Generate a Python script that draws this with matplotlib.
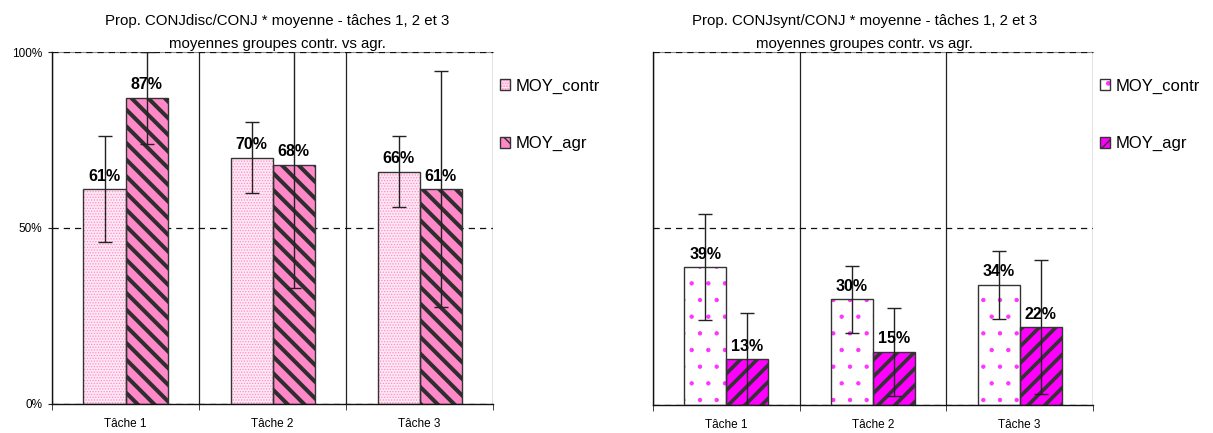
import matplotlib
matplotlib.use("Agg")
import matplotlib.pyplot as plt
from matplotlib.legend_handler import HandlerTuple
import numpy as np

plt.rcParams['font.family'] = ['Liberation Sans', 'DejaVu Sans']

categories = ["Tâche 1", "Tâche 2", "Tâche 3"]
series_names = ["MOY_contr", "MOY_agr"]

# left chart : CONJdisc/CONJ
disc_contr = [0.61, 0.70, 0.66]
disc_agr = [0.87, 0.68, 0.61]
disc_contr_err = [0.15, 0.10, 0.10]
disc_agr_err = [0.13, 0.35, 0.335]

# right chart : CONJsynt/CONJ
synt_contr = [0.39, 0.30, 0.34]
synt_agr = [0.13, 0.15, 0.22]
synt_contr_err = [0.15, 0.095, 0.097]
synt_agr_err = [0.13, 0.125, 0.19]

titles = ["Prop. CONJdisc/CONJ * moyenne - tâches 1, 2 et 3",
          "Prop. CONJsynt/CONJ * moyenne - tâches 1, 2 et 3"]
subtitle = "moyennes groupes contr. vs agr."
yticks = [0, 0.5, 1.0]
ytick_labels = ["0%", "50%", "100%"]

barw = 0.286
edge = '#333333'


# Bars with a hatch fill, then a plain outline on top (hatch colour follows edgecolor).
def hatchedBars(ax, x, h, face, hatch, hcolor, hlw):
	with plt.rc_context({'hatch.linewidth': hlw}):
		fill = ax.bar(x, h, barw, color=face, edgecolor=hcolor, linewidth=0, hatch=hatch, zorder=2)
		for p in fill:
			if hasattr(p, 'set_hatch_linewidth'):
				p.set_hatch_linewidth(hlw)
	outline = ax.bar(x, h, barw, fill=False, edgecolor=edge, linewidth=1, zorder=3)
	return fill, outline


def drawChart(ax, contr, agr, contr_err, agr_err, styles, title, title_x, show_ylabels):
	x = np.arange(len(categories))
	handles = []
	for vals, errs, off, st in zip([contr, agr], [contr_err, agr_err], [-barw / 2, barw / 2], styles):
		fill, outline = hatchedBars(ax, x + off, vals, *st)
		handles.append((fill[0], outline[0]))
		ax.errorbar(x + off, vals, yerr=errs, fmt='none', ecolor='#222222', elinewidth=1,
		            capsize=5, capthick=1, zorder=4)
		for xi, v in zip(x + off, vals):
			ax.annotate("%d%%" % round(v * 100), (xi, v), xytext=(0, 4), textcoords='offset points',
			            ha='center', va='bottom', fontsize=11.5, fontweight='bold', zorder=5)

	ax.set_xlim(-0.5, len(categories) - 0.5)
	ax.set_ylim(0, 1)
	ax.set_xticks(x)
	ax.set_xticklabels(categories, fontsize=8.5)
	ax.set_xticks(np.arange(len(categories) + 1) - 0.5, minor=True)
	ax.tick_params(axis='x', which='major', length=0, pad=10)
	ax.tick_params(axis='x', which='minor', length=4, direction='out', color='#222222')
	ax.set_yticks(yticks)
	if show_ylabels:
		ax.set_yticklabels(ytick_labels, fontsize=8.5)
		ax.tick_params(axis='y', length=3, direction='out', pad=4, color='#222222')
	else:
		ax.set_yticklabels([])
		ax.tick_params(axis='y', length=0)
	ax.set_axisbelow(True)
	ax.grid(axis='x', which='minor', color='#222222', lw=0.9, linestyle='-')
	ax.grid(axis='y', which='major', color='#111111', lw=0.9, linestyle=(0, (5, 4)))
	ax.spines['right'].set_visible(False)
	ax.spines['top'].set_color('#8a8a8a')
	ax.spines['top'].set_linewidth(0.8)
	ax.spines['top'].set_zorder(0.3)
	for s in ['left', 'bottom']:
		ax.spines[s].set_color('#111111')
		ax.spines[s].set_linewidth(1)

	ax.text(title_x, 1.077, title, transform=ax.transAxes, ha='center', va='baseline', fontsize=10.8)
	ax.text(title_x, 1.011, subtitle, transform=ax.transAxes, ha='center', va='baseline', fontsize=10.8)

	ax.legend(handles, series_names, handler_map={tuple: HandlerTuple(ndivide=1, pad=0)},
	          loc='upper left', bbox_to_anchor=(1.015, 0.925), frameon=False, fontsize=12,
	          handlelength=0.62, handleheight=0.62, handletextpad=0.35, labelspacing=2.55,
	          borderpad=0, borderaxespad=0)


fig = plt.figure(figsize=(12.13, 4.33), dpi=100)
ax1 = fig.add_axes([0.0429, 0.0670, 0.3636, 0.8129])
ax2 = fig.add_axes([0.5383, 0.0647, 0.3627, 0.8152])

leftStyles = [('#FFE8F4', '......', '#FF8CC8', 0.6), ('#FF88C8', '\\\\', '#2E2E2E', 2.9)]
rightStyles = [('#FFFFFF', '.', '#FF33FF', 0.7), ('#FF00FF', '//', '#333333', 2.6)]

drawChart(ax1, disc_contr, disc_agr, disc_contr_err, disc_agr_err, leftStyles, titles[0], 0.51, True)
drawChart(ax2, synt_contr, synt_agr, synt_contr_err, synt_agr_err, rightStyles, titles[1], 0.48, False)

fig.savefig("out.png", dpi=100)
